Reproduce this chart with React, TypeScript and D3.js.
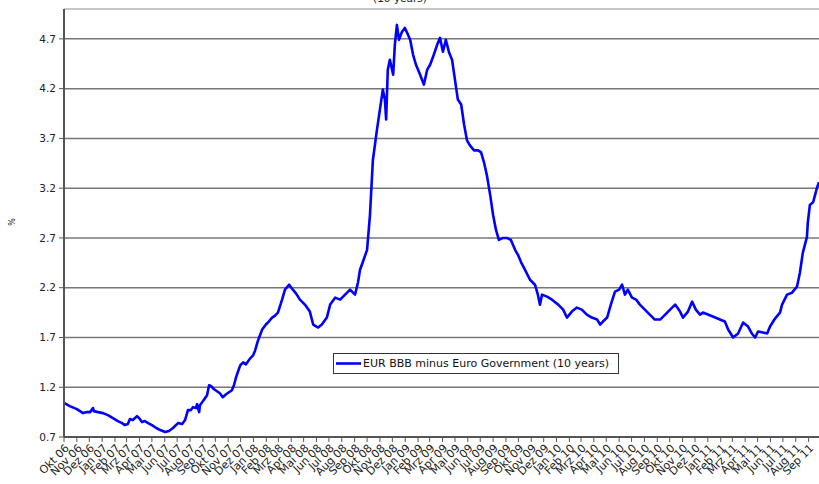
import React from "react";
import * as d3 from "d3";

const dates = [
  "2006-10-02","2006-10-15","2006-11-01","2006-11-16","2006-11-25","2006-12-03","2006-12-10","2006-12-12","2006-12-22",
  "2007-01-03","2007-01-15","2007-01-27","2007-02-08","2007-02-18","2007-02-25","2007-03-04","2007-03-09","2007-03-16",
  "2007-03-26","2007-03-31","2007-04-07","2007-04-14","2007-04-22","2007-05-01","2007-05-08","2007-05-21","2007-06-02",
  "2007-06-11","2007-06-21","2007-07-03","2007-07-13","2007-07-20","2007-07-27","2007-08-03","2007-08-08","2007-08-15",
  "2007-08-18","2007-08-23","2007-08-25","2007-09-01","2007-09-11","2007-09-16","2007-09-21","2007-09-28","2007-10-05",
  "2007-10-12","2007-10-19","2007-10-27","2007-11-03","2007-11-10","2007-11-15","2007-11-20","2007-11-30","2007-12-07",
  "2007-12-14","2007-12-24","2007-12-31","2008-01-05","2008-01-12","2008-01-22","2008-01-31","2008-02-07","2008-02-15",
  "2008-02-22","2008-02-29","2008-03-10","2008-03-17","2008-03-27","2008-04-05","2008-04-13","2008-04-22","2008-05-04",
  "2008-05-16","2008-05-24","2008-06-05","2008-06-14","2008-06-26","2008-07-04","2008-07-16","2008-07-28","2008-08-09",
  "2008-08-21","2008-09-02","2008-09-09","2008-09-14","2008-09-21","2008-10-01","2008-10-08","2008-10-15","2008-10-25",
  "2008-11-01","2008-11-08","2008-11-13","2008-11-16","2008-11-20","2008-11-25","2008-12-03","2008-12-07","2008-12-12",
  "2008-12-17","2008-12-24","2008-12-31","2009-01-08","2009-01-13","2009-01-20","2009-01-27","2009-02-06","2009-02-15",
  "2009-02-23","2009-03-02","2009-03-11","2009-03-19","2009-03-26","2009-04-02","2009-04-09","2009-04-17","2009-04-24",
  "2009-05-01","2009-05-08","2009-05-16","2009-05-23","2009-05-30","2009-06-06","2009-06-16","2009-06-26","2009-07-03",
  "2009-07-10","2009-07-17","2009-07-25","2009-08-01","2009-08-08","2009-08-15","2009-08-25","2009-09-03","2009-09-13",
  "2009-09-23","2009-09-30","2009-10-07","2009-10-17","2009-10-29","2009-11-10","2009-11-17","2009-11-22","2009-11-27",
  "2009-12-09","2009-12-21","2010-01-05","2010-01-17","2010-01-26","2010-02-07","2010-02-19","2010-03-03","2010-03-15",
  "2010-03-27","2010-04-09","2010-04-16","2010-04-23","2010-05-03","2010-05-12","2010-05-22","2010-06-01","2010-06-08",
  "2010-06-15","2010-06-22","2010-07-02","2010-07-12","2010-07-21","2010-08-02","2010-08-14","2010-08-26","2010-09-08",
  "2010-09-20","2010-10-02","2010-10-14","2010-10-26","2010-11-02","2010-11-14","2010-11-24","2010-12-03","2010-12-13",
  "2010-12-20","2011-01-01","2011-01-13","2011-01-30","2011-02-11","2011-02-19","2011-03-03","2011-03-15","2011-03-27",
  "2011-04-08","2011-04-17","2011-04-25","2011-05-02","2011-05-14","2011-05-24","2011-05-31","2011-06-12","2011-06-24",
  "2011-06-29","2011-07-11","2011-07-23","2011-08-04","2011-08-11","2011-08-18","2011-08-28","2011-08-30","2011-09-04",
  "2011-09-12","2011-09-21","2011-09-26"
];

const values = [
  1.04,1.01,0.98,0.94,0.95,0.95,0.99,0.96,0.95,
  0.94,0.92,0.89,0.86,0.84,0.82,0.83,0.88,0.87,
  0.91,0.89,0.85,0.86,0.84,0.82,0.80,0.77,0.75,
  0.76,0.79,0.84,0.83,0.87,0.97,0.97,1.00,0.99,
  1.03,0.95,1.02,1.06,1.12,1.22,1.21,1.18,1.16,
  1.14,1.10,1.13,1.15,1.17,1.22,1.30,1.42,1.45,
  1.43,1.49,1.52,1.57,1.67,1.78,1.83,1.86,1.90,
  1.92,1.95,2.08,2.18,2.23,2.18,2.14,2.08,2.03,
  1.96,1.83,1.80,1.83,1.90,2.03,2.10,2.08,2.13,
  2.18,2.13,2.25,2.38,2.46,2.58,2.93,3.48,3.79,
  3.99,4.19,4.09,3.89,4.39,4.49,4.34,4.64,4.84,
  4.69,4.77,4.81,4.74,4.69,4.54,4.44,4.34,4.24,
  4.39,4.44,4.54,4.64,4.71,4.57,4.69,4.56,4.49,
  4.29,4.09,4.04,3.84,3.68,3.63,3.58,3.58,3.56,
  3.46,3.33,3.13,2.93,2.78,2.68,2.70,2.70,2.68,
  2.58,2.53,2.46,2.38,2.28,2.23,2.13,2.03,2.13,
  2.11,2.08,2.03,1.98,1.90,1.96,2.00,1.98,1.93,
  1.90,1.88,1.83,1.86,1.90,2.03,2.16,2.18,2.23,
  2.13,2.18,2.10,2.08,2.03,1.98,1.93,1.88,1.88,
  1.93,1.98,2.03,1.96,1.90,1.96,2.06,1.98,1.93,
  1.95,1.93,1.91,1.88,1.86,1.78,1.70,1.74,1.85,
  1.81,1.74,1.70,1.76,1.75,1.74,1.81,1.89,1.95,
  2.03,2.13,2.15,2.21,2.35,2.55,2.71,2.85,3.03,
  3.06,3.20,3.26
];

const yTicks = [0.7, 1.2, 1.7, 2.2, 2.7, 3.2, 3.7, 4.2, 4.7];
const monthNames = ["Jan","Feb","Mrz","Apr","Mai","Jun","Jul","Aug","Sep","Okt","Nov","Dez"];
const firstMonth = "2006-10-01";
const lastMonth = "2011-09-01";
const seriesName = "EUR BBB minus Euro Government (10 years)";
const titleTail = "(10 years)";
const yUnit = "%";

const W = 819, H = 484;
const FONT = "Verdana, 'DejaVu Sans', sans-serif";

export default function App() {
  const parse = d3.timeParse("%Y-%m-%d");
  const data = dates.map((d, i) => ({ date: parse(d) as Date, value: values[i] }));
  const x = d3.scaleTime().domain([parse(firstMonth) as Date, parse(lastMonth) as Date]).range([64, 808.6]);
  const y = d3.scaleLinear().domain([0.7, 5.0]).range([437, 9]);
  const months = d3.timeMonth.range(parse(firstMonth) as Date, d3.timeMonth.offset(parse(lastMonth) as Date, 1));
  const line = d3.line<{ date: Date; value: number }>().x(d => x(d.date)).y(d => y(d.value));
  const left = 64, right = W;

  return (
    <div style={{ position: "absolute", left: 0, top: 0 }}>
      <svg width={W} height={H} style={{ display: "block", background: "#fff" }}>
        <text x={400} y={1.5} fontFamily={FONT} fontSize={10.5} textAnchor="middle" fill="#222">{titleTail}</text>
        <line x1={left} x2={right} y1={y(5.0)} y2={y(5.0)} stroke="#b4b4b4" strokeWidth={1.5} />
        {yTicks.map(t => (
          <g key={t}>
            {t > 0.7 && <line x1={left} x2={right} y1={y(t)} y2={y(t)} stroke="#777" strokeWidth={1.5} />}
            <line x1={left - 5} x2={left} y1={y(t)} y2={y(t)} stroke="#555" strokeWidth={1} />
            <text x={left - 8} y={y(t)} dy="0.35em" fontFamily={FONT} fontSize={10.5} textAnchor="end" fill="#222">{t.toFixed(1)}</text>
          </g>
        ))}
        <text transform={`translate(15,222) rotate(-90)`} fontFamily={FONT} fontSize={8} textAnchor="middle" fill="#222">{yUnit}</text>
        <path d={line(data) as string} fill="none" stroke="#0000ff" strokeWidth={2.6} strokeLinejoin="round" />
        <line x1={left} x2={left} y1={y(5.0)} y2={y(0.7)} stroke="#555" strokeWidth={2} />
        <line x1={left} x2={right} y1={y(0.7)} y2={y(0.7)} stroke="#555" strokeWidth={2} />
        {months.map((m, i) => {
          const xm = x(m);
          const label = `${monthNames[m.getMonth()]} ${String(m.getFullYear() % 100).padStart(2, "0")}`;
          return (
            <g key={i}>
              <line x1={xm} x2={xm} y1={y(0.7)} y2={y(0.7) + 5} stroke="#555" strokeWidth={1} />
              <text transform={`translate(${xm + 3},${y(0.7) + 9}) rotate(-45)`} dy="0.35em" fontFamily={FONT} fontSize={11} textAnchor="end" fill="#222">{label}</text>
            </g>
          );
        })}
        <rect x={333.5} y={353.5} width={285} height={20} fill="#fff" stroke="#333" strokeWidth={1} />
        <line x1={336} x2={361} y1={363.5} y2={363.5} stroke="#0000ff" strokeWidth={2.6} />
        <text x={363} y={363.5} dy="0.35em" fontFamily={FONT} fontSize={11} fill="#111">{seriesName}</text>
      </svg>
    </div>
  );
}
